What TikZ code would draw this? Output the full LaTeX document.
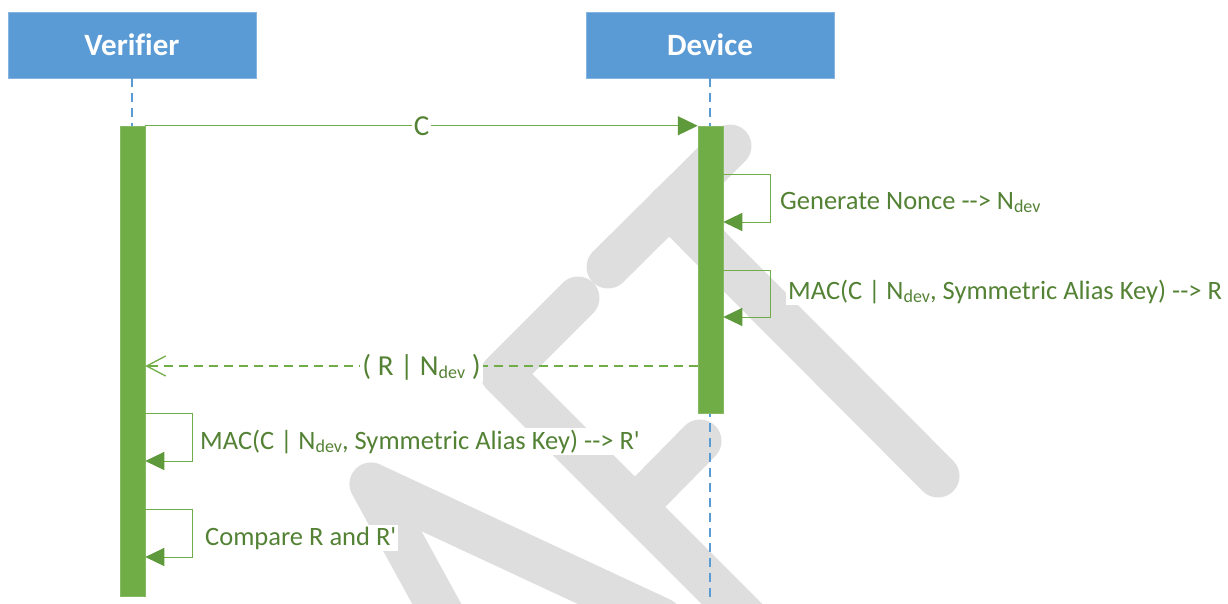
\documentclass[tikz,border=0pt]{standalone}
\usepackage{fontspec}
\setmainfont{Carlito}[Ligatures=NoCommon]
\usetikzlibrary{arrows.meta}
\definecolor{hdrblue}{HTML}{5B9BD5}
\definecolor{bargreen}{HTML}{70AD47}
\definecolor{tipgreen}{HTML}{5E9A3C}
\definecolor{txtgreen}{HTML}{548235}
\definecolor{wmgray}{HTML}{DEDEDE}
\newcommand\Ndev{N\raisebox{-3.5pt}{\fontsize{18}{18}\selectfont dev}}
\newcommand\qs{\textquotesingle}
\begin{document}
\begin{tikzpicture}[x=1pt,y=-1pt,
  head/.style={fill=hdrblue, draw=hdrblue!75!white, line width=0.8pt, minimum width=248pt, minimum height=66pt, inner sep=0pt, text=white, font=\fontsize{31}{36}\selectfont\bfseries},
  life/.style={draw=hdrblue, line width=1.1pt, dash pattern=on 9pt off 6pt},
  bar/.style={fill=bargreen, draw=bargreen!85!white, line width=0.5pt, minimum width=25pt, inner sep=0pt},
  msg/.style={draw=bargreen, line width=1.3pt},
  selfmsg/.style={draw=bargreen, line width=1pt, -{Triangle[length=19pt,width=18pt,color=tipgreen]}},
  lbl/.style={text=txtgreen, fill=white, inner sep=2pt, font=\fontsize{26.5}{30}\selectfont},
  mlbl/.style={text=txtgreen, fill=white, inner sep=2pt, font=\fontsize{29}{33}\selectfont},
  wm/.style={draw=wmgray, line width=43pt, line cap=round, line join=round},
]
\useasboundingbox (0,0) rectangle (1228,603);
\fill[white] (0,0) rectangle (1228,603);
% watermark
\begin{scope}
\clip (0,0) rectangle (1228,603);
\draw[wm] (608,267) -- (730,146);
\draw[wm] (669,206) -- (938,476);
\draw[wm] (578,298) -- (502,374) -- (775,647);
\draw[wm] (635,507) -- (700,441);
\draw[wm] (661,619) -- (371,484) -- (467,659);
\end{scope}
% headers and lifelines
\node[head] (ver) at (132,45) {Verifier};
\node[head] (dev) at (710,45) {Device};
\coordinate (verend) at (132,600);
\coordinate (devend) at (710,603);
\draw[life] (ver.south) -- (verend);
\draw[life] (dev.south) -- (devend);
% activation bars
\node[bar, minimum height=470pt] (vbar) at (132.5,361) {};
\node[bar, minimum height=287pt] (dbar) at (710.5,269.5) {};
% C message
\draw[msg, -{Triangle[length=20pt,width=19pt,color=tipgreen]}] (vbar.north east) -- (dbar.north west)
  node[mlbl, pos=0.5] (clbl) {C};
% device self messages
\draw[selfmsg] (dbar.east |- 0,174) -| (770,222) -- (dbar.east |- 0,222);
\node[lbl, anchor=base west] (g1) at (778,209) {Generate Nonce -{}-> \Ndev};
\draw[selfmsg] (dbar.east |- 0,270) -| (770,317) -- (dbar.east |- 0,317);
\node[lbl, anchor=base west] (g2) at (786,299) {MAC(C | \Ndev, Symmetric Alias Key) -{}-> R};
% return message
\draw[msg, dash pattern=on 9pt off 6pt, -{Straight Barb[length=19pt,width=20pt]}] (dbar.west |- 0,366) -- (vbar.east |- 0,366)
  node[mlbl, pos=0.5, yshift=-1pt] (rlbl) {( R | \Ndev\ )};
% verifier self messages
\draw[selfmsg] (vbar.east |- 0,413) -| (192,461) -- (vbar.east |- 0,461);
\node[lbl, anchor=base west] (v1) at (198,449) {MAC(C | \Ndev, Symmetric Alias Key) -{}-> R\qs};
\draw[selfmsg] (vbar.east |- 0,509) -| (192,557) -- (vbar.east |- 0,557);
\node[lbl, anchor=base west] (v2) at (203,545) {Compare R and R\qs};
\end{tikzpicture}
\end{document}
